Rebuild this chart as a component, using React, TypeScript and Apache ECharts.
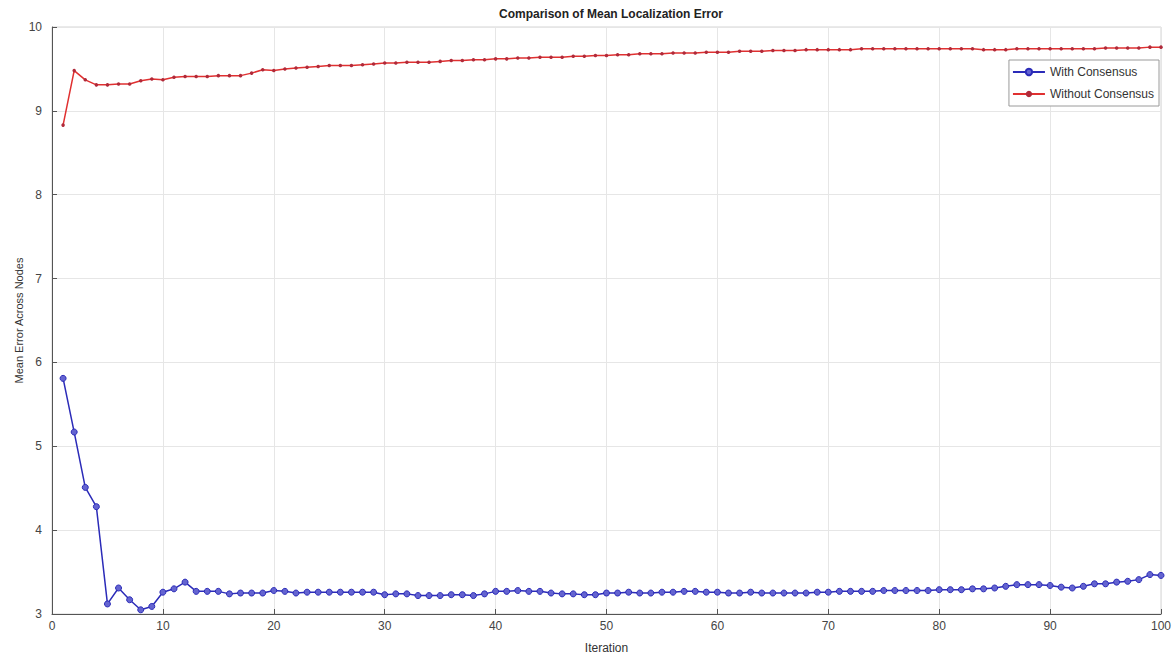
import React, { useEffect, useRef } from "react";
import * as echarts from "echarts";

const titleText = "Comparison of Mean Localization Error";
const xAxisName = "Iteration";
const yAxisName = "Mean Error Across Nodes";
const seriesNames = ["With Consensus", "Without Consensus"];

const withConsensus = [
  5.81, 5.17, 4.51, 4.28, 3.12, 3.31, 3.17, 3.05, 3.09, 3.26,
  3.3, 3.38, 3.27, 3.27, 3.27, 3.24, 3.25, 3.25, 3.25, 3.28,
  3.27, 3.25, 3.26, 3.26, 3.26, 3.26, 3.26, 3.26, 3.26, 3.23,
  3.24, 3.24, 3.22, 3.22, 3.22, 3.23, 3.23, 3.22, 3.24, 3.27,
  3.27, 3.28, 3.27, 3.27, 3.25, 3.24, 3.24, 3.23, 3.23, 3.25,
  3.25, 3.26, 3.25, 3.25, 3.26, 3.26, 3.27, 3.27, 3.26, 3.26,
  3.25, 3.25, 3.26, 3.25, 3.25, 3.25, 3.25, 3.25, 3.26, 3.26,
  3.27, 3.27, 3.27, 3.27, 3.28, 3.28, 3.28, 3.28, 3.28, 3.29,
  3.29, 3.29, 3.3, 3.3, 3.31, 3.33, 3.35, 3.35, 3.35, 3.34,
  3.32, 3.31, 3.33, 3.36, 3.36, 3.38, 3.39, 3.41, 3.47, 3.46,
];

const withoutConsensus = [
  8.83, 9.48, 9.37, 9.31, 9.31, 9.32, 9.32, 9.36, 9.38, 9.37,
  9.4, 9.41, 9.41, 9.41, 9.42, 9.42, 9.42, 9.45, 9.49, 9.48,
  9.5, 9.51, 9.52, 9.53, 9.54, 9.54, 9.54, 9.55, 9.56, 9.57,
  9.57, 9.58, 9.58, 9.58, 9.59, 9.6, 9.6, 9.61, 9.61, 9.62,
  9.62, 9.63, 9.63, 9.64, 9.64, 9.64, 9.65, 9.65, 9.66, 9.66,
  9.67, 9.67, 9.68, 9.68, 9.68, 9.69, 9.69, 9.69, 9.7, 9.7,
  9.7, 9.71, 9.71, 9.71, 9.72, 9.72, 9.72, 9.73, 9.73, 9.73,
  9.73, 9.73, 9.74, 9.74, 9.74, 9.74, 9.74, 9.74, 9.74, 9.74,
  9.74, 9.74, 9.74, 9.73, 9.73, 9.73, 9.74, 9.74, 9.74, 9.74,
  9.74, 9.74, 9.74, 9.74, 9.75, 9.75, 9.75, 9.75, 9.76, 9.76,
];

const toPairs = (vals: number[]) => vals.map((v, i) => [i + 1, v]);

export default function App() {
  const ref = useRef<HTMLDivElement>(null);
  useEffect(() => {
    if (!ref.current) return;
    const chart = echarts.init(ref.current, undefined, { renderer: "svg" });
    const font = "'Liberation Sans', Arial, Helvetica, sans-serif";
    chart.setOption({
      animation: false,
      textStyle: { fontFamily: font },
      title: {
        text: titleText,
        left: 606,
        textAlign: "center",
        top: 3,
        textStyle: { fontSize: 12, fontWeight: "bold", color: "#222", fontFamily: font },
      },
      legend: {
        right: 17,
        top: 60,
        orient: "vertical",
        backgroundColor: "#fff",
        borderColor: "#9a9a9a",
        borderWidth: 1,
        borderRadius: 0,
        padding: [6, 5, 6, 3],
        itemGap: 10,
        itemWidth: 32,
        itemHeight: 8,
        textStyle: { fontSize: 12, color: "#333", fontFamily: font },
        data: seriesNames,
      },
      grid: {
        left: 52,
        right: 15,
        top: 27,
        bottom: 43,
        containLabel: false,
        outerBoundsMode: "none",
        show: true,
        borderColor: "#d4d4d4",
        borderWidth: 1,
      },
      xAxis: {
        type: "value",
        min: 0,
        max: 100,
        interval: 10,
        name: xAxisName,
        nameLocation: "middle",
        nameGap: 28,
        nameTextStyle: { fontSize: 12, color: "#333" },
        axisLine: { show: true, onZero: false, lineStyle: { color: "#555" } },
        axisTick: { show: true, inside: true, length: 5, lineStyle: { color: "#555" } },
        axisLabel: { fontSize: 12, color: "#444", margin: 6 },
        splitLine: { show: true, lineStyle: { color: "#e6e6e6" } },
      },
      yAxis: {
        type: "value",
        min: 3,
        max: 10,
        interval: 1,
        name: yAxisName,
        nameLocation: "middle",
        nameGap: 28,
        nameMoveOverlap: false,
        nameTextStyle: { fontSize: 11, color: "#333" },
        axisLine: { show: true, onZero: false, lineStyle: { color: "#555" } },
        axisTick: { show: true, inside: true, length: 5, lineStyle: { color: "#555" } },
        axisLabel: { fontSize: 12, color: "#444", margin: 10 },
        splitLine: { show: true, lineStyle: { color: "#e6e6e6" } },
      },
      series: [
        {
          name: seriesNames[0],
          type: "line",
          data: toPairs(withConsensus),
          symbol: "circle",
          symbolSize: 6,
          lineStyle: { color: "#2b2bb8", width: 1.5 },
          itemStyle: { color: "#6464d0", borderColor: "#2b2bb8", borderWidth: 1 },
        },
        {
          name: seriesNames[1],
          type: "line",
          data: toPairs(withoutConsensus),
          symbol: "circle",
          symbolSize: 3.5,
          lineStyle: { color: "#e03030", width: 1.5 },
          itemStyle: { color: "#b02a3a", borderColor: "#b02a3a", borderWidth: 0 },
        },
      ],
    });
    return () => chart.dispose();
  }, []);
  return <div ref={ref} style={{ width: 1176, height: 657, position: "absolute", left: 0, top: 0, background: "#fff" }} />;
}
